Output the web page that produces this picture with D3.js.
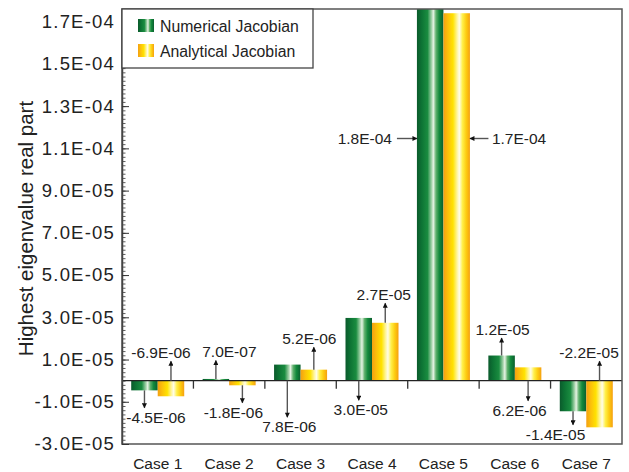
<!DOCTYPE html>
<html>
<head>
<meta charset="utf-8">
<script src="https://cdn.jsdelivr.net/npm/d3@7"></script>
<style>
  html, body { margin: 0; padding: 0; background: #fff; }
  svg { display: block; font-family: "Liberation Sans", Arial, Helvetica, sans-serif; }
</style>
</head>
<body>
<svg id="chart" width="629" height="472"></svg>
<script>
// ---------- data ----------
const categories = ["Case 1", "Case 2", "Case 3", "Case 4", "Case 5", "Case 6", "Case 7"];
const seriesNames = ["Numerical Jacobian", "Analytical Jacobian"];
const numerical  = [-4.6e-6, 0.8e-6, 7.6e-6, 29.7e-6, 1.8e-4, 11.9e-6, -14.5e-6];
const analytical = [-7.4e-6, -2.2e-6, 5.2e-6, 27.4e-6, 1.74e-4, 6.3e-6, -22.1e-6];
const numericalLabels  = ["-4.5E-06", "7.0E-07", "7.8E-06", "3.0E-05", "1.8E-04", "1.2E-05", "-1.4E-05"];
const analyticalLabels = ["-6.9E-06", "-1.8E-06", "5.2E-06", "2.7E-05", "1.7E-04", "6.2E-06", "-2.2E-05"];
const yTickValues = [-3e-5, -1e-5, 1e-5, 3e-5, 5e-5, 7e-5, 9e-5, 1.1e-4, 1.3e-4, 1.5e-4, 1.7e-4];
const yTickLabels = ["-3.0E-05", "-1.0E-05", "1.0E-05", "3.0E-05", "5.0E-05", "7.0E-05", "9.0E-05", "1.1E-04", "1.3E-04", "1.5E-04", "1.7E-04"];
const yDomain = [-3e-5, 1.76e-4];
const yLabel = "Highest eigenvalue real part";

// ---------- annotation layout (pixels; not data) ----------
const numLayout = [
  {dir: "down", from: "end",  len: 17.5, dx: 11.5},
  {dir: "up",   from: "end",  len: 18.5, dx: 13.5},
  {dir: "down", from: "zero", len: 36.5, dx: 2},
  {dir: "down", from: "zero", len: 19.5, dx: 2},
  {dir: "right", yPix: 138.5, len: 20},
  {dir: "up",   from: "end",  len: 17.5, dx: 1},
  {dir: "down", from: "end",  len: 13.5, dx: -17.5}
];
const anaLayout = [
  {dir: "up",   from: "zero", len: 19.5, dx: -10},
  {dir: "down", from: "end",  len: 17.5, dx: -9},
  {dir: "up",   from: "end",  len: 22.5, dx: -4.5},
  {dir: "up",   from: "end",  len: 19.5, dx: -1.5},
  {dir: "left", yPix: 138.5, len: 18.5},
  {dir: "down", from: "zero", len: 20,   dx: -8.5},
  {dir: "up",   from: "zero", len: 19.5, dx: -10.5}
];

// ---------- layout ----------
const svg = d3.select("#chart");
const L = 122, R = 622, T = 9, B = 444;
const x = d3.scaleBand().domain(categories).range([L, R]).paddingInner(0).paddingOuter(0);
const barW = 26.5;
const groupOff = (x.bandwidth() - 2 * barW) / 2;
const y = d3.scaleLinear().domain(yDomain).range([B, T]);
const y0 = y(0);

const defs = svg.append("defs");
function grad(id, stops) {
  const g = defs.append("linearGradient").attr("id", id).attr("x1", "0%").attr("x2", "100%").attr("y1", "0%").attr("y2", "0%");
  stops.forEach(s => g.append("stop").attr("offset", s[0]).attr("stop-color", s[1]));
}
grad("gGreen", [["0%", "#0b5a2c"], ["18%", "#0d7434"], ["40%", "#1a8c40"], ["55%", "#9fd0a6"], ["62%", "#e6f3e4"], ["72%", "#5fb06c"], ["84%", "#138a3c"], ["100%", "#0a5e2e"]]);
grad("gYellow", [["0%", "#f4a012"], ["18%", "#fcc20a"], ["36%", "#ffe200"], ["52%", "#fff6a0"], ["60%", "#fffde8"], ["72%", "#fff04a"], ["86%", "#fdcc10"], ["100%", "#f5a010"]]);

svg.append("clipPath").attr("id", "plotClip").append("rect").attr("x", L).attr("y", T).attr("width", R - L).attr("height", B - T);

const plot = svg.append("g").attr("clip-path", "url(#plotClip)");
function drawBars(vals, fill, idx) {
  plot.selectAll(null).data(vals).join("rect")
    .attr("x", (d, i) => x(categories[i]) + groupOff + idx * barW)
    .attr("width", barW)
    .attr("y", d => Math.min(y(d), y0))
    .attr("height", d => Math.abs(y(d) - y0))
    .attr("fill", fill);
}
drawBars(numerical, "url(#gGreen)", 0);
drawBars(analytical, "url(#gYellow)", 1);

svg.append("line").attr("x1", L).attr("x2", R).attr("y1", y0).attr("y2", y0).attr("stroke", "#222").attr("stroke-width", 1.3);

svg.selectAll(null).data(categories.slice(1)).join("line")
  .attr("x1", d => x(d)).attr("x2", d => x(d))
  .attr("y1", y0).attr("y2", y0 + 8)
  .attr("stroke", "#333").attr("stroke-width", 1.3);

svg.append("rect").attr("x", L).attr("y", T).attr("width", R - L).attr("height", B - T)
  .attr("fill", "none").attr("stroke", "#555").attr("stroke-width", 1.5);

const minorTicks = d3.range(-30, 177, 2).map(v => v * 1e-6);
svg.append("g").attr("transform", `translate(${L},0)`)
  .call(d3.axisLeft(y).tickValues(minorTicks).tickSizeInner(-3.5).tickSizeOuter(0).tickFormat(""))
  .call(g => g.select(".domain").remove())
  .call(g => g.selectAll("line").attr("stroke", "#333").attr("stroke-width", 0.8));

svg.append("g").attr("transform", `translate(${L},0)`)
  .call(d3.axisLeft(y).tickValues(yTickValues).tickSizeInner(-7).tickSizeOuter(0).tickPadding(7)
        .tickFormat((d, i) => yTickLabels[i]))
  .call(g => g.select(".domain").attr("stroke", "#444").attr("stroke-width", 1.5))
  .call(g => g.selectAll("line").attr("stroke", "#333").attr("stroke-width", 1))
  .call(g => g.selectAll("text").attr("font-size", 18.5).attr("fill", "#222")
        .attr("font-family", "Liberation Sans, Arial, sans-serif").style("letter-spacing", "1.2px"));

svg.selectAll(null).data(categories).join("text")
  .attr("x", d => x(d) + x.bandwidth() / 2)
  .attr("y", 469)
  .attr("text-anchor", "middle")
  .attr("font-size", 15.5).attr("fill", "#222")
  .text(d => d);

svg.append("text")
  .attr("transform", `translate(33,${(T + B) / 2 + 2}) rotate(-90)`)
  .attr("text-anchor", "middle")
  .attr("font-size", 20.5).attr("fill", "#222")
  .text(yLabel);

defs.append("marker").attr("id", "arrowHead").attr("viewBox", "0 0 10 10")
  .attr("refX", 9).attr("refY", 5).attr("markerWidth", 6).attr("markerHeight", 5)
  .attr("markerUnits", "userSpaceOnUse").attr("orient", "auto")
  .append("path").attr("d", "M0,0 L10,5 L0,10 Z").attr("fill", "#111");

const ann = svg.append("g");
function annotate(vals, labels, layout, idx) {
  vals.forEach((v, i) => {
    const lay = layout[i];
    const bx = x(categories[i]) + groupOff + idx * barW;
    const cx = bx + barW / 2;
    let x1, y1, x2, y2, tx, ty, anchor = "middle";
    if (lay.dir === "up" || lay.dir === "down") {
      const start = lay.from === "zero" ? y0 : y(v);
      y1 = start; x1 = cx; x2 = cx;
      if (lay.dir === "up") { y2 = start - lay.len; ty = y2 - 3; }
      else { y2 = start + lay.len; ty = y2 + 15; }
      tx = cx + lay.dx;
    } else if (lay.dir === "right") {
      x2 = bx; x1 = bx - lay.len; y1 = y2 = lay.yPix;
      tx = x1 - 5; ty = lay.yPix + 5.5; anchor = "end";
    } else {
      x2 = bx + barW; x1 = x2 + lay.len; y1 = y2 = lay.yPix;
      tx = x1 + 3.5; ty = lay.yPix + 5.5; anchor = "start";
    }
    ann.append("line").attr("x1", x1).attr("y1", y1).attr("x2", x2).attr("y2", y2)
      .attr("stroke", "#555").attr("stroke-width", 1.4).attr("marker-end", "url(#arrowHead)");
    ann.append("text").attr("x", tx).attr("y", ty).attr("text-anchor", anchor)
      .attr("font-size", 15.5).attr("fill", "#222").text(labels[i]);
  });
}
annotate(numerical, numericalLabels, numLayout, 0);
annotate(analytical, analyticalLabels, anaLayout, 1);

const leg = svg.append("g");
leg.append("rect").attr("x", L).attr("y", T).attr("width", 313 - L).attr("height", 68 - T)
  .attr("fill", "#fff").attr("stroke", "#444").attr("stroke-width", 1.3);
const legFills = ["url(#gGreen)", "url(#gYellow)"];
seriesNames.forEach((name, i) => {
  leg.append("rect").attr("x", 138).attr("y", 19 + i * 25).attr("width", 16).attr("height", 13).attr("fill", legFills[i]);
  leg.append("text").attr("x", 160).attr("y", 32 + i * 25).attr("font-size", 15.8).attr("fill", "#222").text(name);
});
</script>
</body>
</html>
